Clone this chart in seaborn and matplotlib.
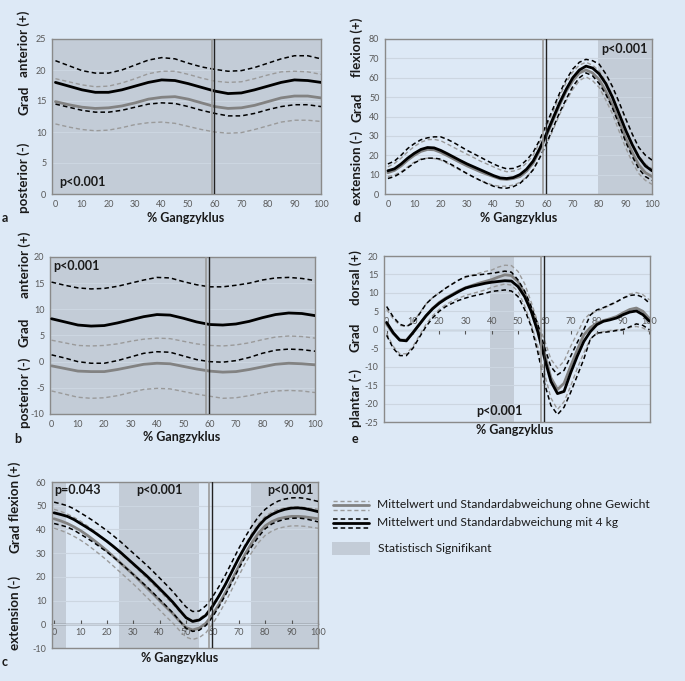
import numpy as np
import pandas as pd
import matplotlib
matplotlib.use("Agg")
import matplotlib.pyplot as plt
from matplotlib.lines import Line2D
from matplotlib.patches import Rectangle
import seaborn as sns

# ---------------- data ----------------
x_pct = [0, 5, 10, 15, 20, 25, 30, 35, 40, 45, 50, 55, 60, 65, 70, 75, 80, 85, 90, 95, 100]
x_fine = [0, 2.5, 5, 7.5, 10, 12.5, 15, 17.5, 20, 22.5, 25, 27.5, 30, 32.5, 35, 37.5, 40, 42.5, 45, 47.5,
          50, 52.5, 55, 57.5, 60, 62.5, 65, 67.5, 70, 72.5, 75, 77.5, 80, 82.5, 85, 87.5, 90, 92.5, 95, 97.5, 100]

# panel a (x_pct)
a_kg_mean = [18.0, 17.4, 16.8, 16.4, 16.4, 16.8, 17.4, 18.0, 18.4, 18.3, 17.8, 17.2, 16.6, 16.2, 16.3, 16.8, 17.4, 18.0, 18.4, 18.3, 18.0]
a_kg_up   = [21.5, 20.7, 19.9, 19.5, 19.5, 20.0, 20.8, 21.6, 22.0, 21.8, 21.1, 20.5, 20.1, 19.8, 19.9, 20.4, 21.1, 21.8, 22.3, 22.3, 21.8]
a_kg_lo   = [14.5, 14.0, 13.5, 13.2, 13.2, 13.5, 14.0, 14.5, 14.7, 14.6, 14.1, 13.5, 13.0, 12.6, 12.6, 13.0, 13.6, 14.1, 14.4, 14.4, 14.1]
a_0_mean  = [14.9, 14.4, 14.0, 13.8, 13.9, 14.2, 14.7, 15.3, 15.6, 15.7, 15.3, 14.7, 14.1, 13.8, 13.9, 14.3, 14.9, 15.5, 15.8, 15.8, 15.5]
a_0_up    = [18.6, 18.1, 17.6, 17.3, 17.4, 17.9, 18.6, 19.4, 19.8, 19.8, 19.3, 18.7, 18.2, 18.0, 18.1, 18.6, 19.2, 19.7, 19.8, 19.7, 19.3]
a_0_lo    = [11.3, 10.8, 10.4, 10.2, 10.3, 10.7, 11.2, 11.5, 11.6, 11.4, 10.9, 10.4, 10.0, 9.8, 9.9, 10.4, 11.0, 11.6, 11.9, 11.9, 11.7]

# panel b (x_pct)
b_kg_up   = [15.2, 14.6, 14.1, 13.9, 14.0, 14.4, 15.0, 15.6, 16.1, 16.0, 15.3, 14.7, 14.3, 14.3, 14.6, 15.0, 15.6, 16.0, 16.1, 15.9, 15.5]
b_kg_mean = [8.2, 7.6, 7.0, 6.8, 6.9, 7.4, 8.0, 8.6, 9.0, 8.9, 8.3, 7.6, 7.1, 7.0, 7.2, 7.7, 8.4, 9.0, 9.3, 9.2, 8.8]
b_0_up    = [4.1, 3.6, 3.1, 3.0, 3.1, 3.4, 3.9, 4.3, 4.5, 4.4, 3.9, 3.4, 3.1, 3.0, 3.2, 3.6, 4.2, 4.7, 4.9, 4.8, 4.5]
b_kg_lo   = [1.3, 0.7, 0.0, -0.3, -0.3, 0.2, 0.9, 1.6, 1.9, 1.8, 1.1, 0.4, 0.0, -0.1, 0.2, 0.8, 1.6, 2.2, 2.4, 2.3, 2.0]
b_0_mean  = [-0.8, -1.3, -1.8, -1.9, -1.9, -1.5, -1.0, -0.5, -0.3, -0.4, -0.9, -1.4, -1.8, -2.0, -1.9, -1.5, -1.0, -0.5, -0.3, -0.4, -0.6]
b_0_lo    = [-5.6, -6.2, -6.8, -7.0, -6.9, -6.5, -5.9, -5.3, -5.1, -5.2, -5.7, -6.2, -6.6, -7.0, -6.9, -6.5, -6.0, -5.6, -5.5, -5.6, -5.9]

# panel c (x_fine)
c_kg_mean = [47.0, 46.3, 45.5, 44.2, 42.5, 40.8, 39.0, 37.0, 35.0, 32.8, 30.5, 28.0, 25.5, 23.0, 20.5, 17.8, 15.0, 12.2, 9.3, 6.0,
             2.8, 1.2, 1.8, 3.8, 7.5, 12.0, 17.0, 22.5, 28.0, 33.0, 37.5, 41.5, 44.5, 46.3, 47.6, 48.5, 49.0, 49.1, 48.8, 48.2, 47.5]
c_kg_up   = [51.5, 50.8, 50.0, 48.7, 47.0, 45.3, 43.5, 41.5, 39.5, 37.3, 35.0, 32.5, 30.0, 27.5, 25.0, 22.3, 19.5, 16.7, 13.8, 10.5,
             7.3, 5.4, 5.6, 7.8, 11.5, 16.0, 21.0, 26.5, 32.0, 37.0, 41.5, 45.5, 48.5, 50.5, 52.0, 52.8, 53.3, 53.4, 53.1, 52.5, 51.8]
c_kg_lo   = [42.5, 41.8, 41.0, 39.7, 38.0, 36.3, 34.5, 32.5, 30.5, 28.3, 26.0, 23.5, 21.0, 18.5, 16.0, 13.3, 10.5, 7.7, 4.8, 1.5,
             -1.7, -3.0, -2.5, -0.5, 3.0, 7.5, 12.5, 18.0, 23.5, 28.5, 33.0, 37.0, 40.3, 42.3, 43.5, 44.3, 44.7, 44.8, 44.5, 43.9, 43.2]
c_0_mean  = [44.5, 43.6, 42.5, 41.1, 39.5, 37.6, 35.5, 33.3, 31.0, 28.5, 26.0, 23.5, 21.0, 18.3, 15.5, 12.8, 10.0, 7.2, 4.5, 1.4,
             -1.4, -2.4, -1.6, 0.4, 4.0, 8.5, 13.5, 19.0, 24.5, 29.8, 34.5, 38.5, 41.5, 43.3, 44.5, 45.1, 45.5, 45.5, 45.3, 44.9, 44.5]
c_0_up    = [48.5, 47.6, 46.5, 45.1, 43.5, 41.6, 39.5, 37.3, 35.0, 32.5, 30.0, 27.5, 25.0, 22.3, 19.5, 16.8, 14.0, 11.2, 8.5, 5.4,
             2.6, 1.6, 2.4, 4.4, 8.0, 12.5, 17.5, 23.0, 28.5, 33.8, 38.5, 42.5, 45.5, 47.3, 48.5, 49.1, 49.5, 49.5, 49.3, 48.9, 48.5]
c_0_lo    = [40.5, 39.6, 38.5, 37.1, 35.5, 33.6, 31.5, 29.3, 27.0, 24.5, 22.0, 19.5, 17.0, 14.3, 11.5, 8.8, 6.0, 3.2, 0.5, -2.6,
             -5.4, -6.4, -5.6, -3.6, 0.0, 4.5, 9.5, 15.0, 20.5, 25.8, 30.5, 34.5, 37.5, 39.3, 40.5, 41.1, 41.5, 41.5, 41.3, 40.9, 40.5]

# panel d (x_fine)
d_kg_mean = [12.0, 13.0, 15.5, 18.5, 21.0, 23.0, 24.0, 23.8, 22.5, 20.8, 19.0, 17.2, 15.5, 14.0, 12.5, 11.0, 9.5, 8.3, 8.0, 8.5,
             10.0, 12.8, 17.0, 23.5, 31.0, 39.0, 47.0, 54.0, 60.0, 64.0, 66.0, 65.0, 62.0, 57.0, 50.0, 41.5, 33.0, 25.5, 19.0, 14.5, 12.0]
d_0_mean  = [11.0, 12.2, 14.5, 17.5, 20.0, 22.0, 23.0, 22.8, 21.5, 19.8, 18.0, 16.2, 14.5, 13.0, 11.5, 10.2, 9.0, 7.8, 7.5, 8.0,
             9.0, 11.8, 16.0, 22.5, 30.0, 38.0, 46.0, 53.0, 58.5, 62.5, 64.0, 62.5, 59.0, 53.0, 46.0, 37.5, 29.0, 21.5, 15.0, 11.0, 9.0]
d_kg_up   = [15.5, 17.0, 20.0, 23.5, 26.0, 28.0, 29.0, 29.5, 29.5, 28.2, 26.5, 24.5, 22.5, 20.8, 19.0, 17.2, 15.5, 14.0, 13.0, 13.2,
             14.5, 17.5, 21.5, 28.0, 36.0, 44.0, 52.0, 59.0, 64.5, 68.0, 69.5, 68.8, 67.0, 62.0, 55.5, 47.5, 39.0, 31.0, 24.0, 20.0, 17.5]
d_kg_lo   = [8.0, 9.0, 11.0, 13.5, 16.0, 17.8, 18.5, 18.5, 18.0, 16.3, 14.5, 12.5, 10.5, 8.7, 7.0, 5.4, 4.0, 3.2, 3.0, 3.8,
             5.5, 8.5, 12.5, 18.8, 26.0, 34.0, 42.0, 49.0, 55.5, 60.0, 62.5, 61.0, 57.0, 51.5, 44.5, 36.0, 27.0, 19.5, 13.0, 9.0, 7.0]
d_0_up    = [14.0, 15.8, 18.5, 21.8, 24.5, 26.7, 28.0, 28.2, 27.5, 25.8, 24.0, 22.2, 20.5, 18.8, 17.0, 15.5, 14.0, 12.5, 11.5, 11.8,
             13.0, 16.0, 20.0, 26.8, 34.5, 42.5, 50.5, 57.5, 63.0, 66.5, 68.0, 66.5, 63.5, 58.0, 51.0, 42.5, 34.0, 26.0, 19.5, 15.5, 13.0]
d_0_lo    = [9.0, 9.8, 11.5, 14.0, 16.5, 18.0, 18.5, 18.3, 17.5, 15.8, 14.0, 12.2, 10.5, 8.7, 7.0, 5.7, 4.5, 4.0, 4.0, 4.6,
             6.0, 8.8, 12.5, 18.5, 25.5, 33.0, 41.0, 48.0, 54.0, 58.5, 60.5, 58.5, 55.0, 48.5, 41.5, 32.5, 24.0, 16.5, 10.5, 7.0, 5.0]

# panel e (x_fine)
e_kg_mean = [2.0, -0.8, -2.8, -3.0, -0.8, 1.5, 3.8, 5.7, 7.2, 8.4, 9.4, 10.4, 11.3, 11.8, 12.2, 12.6, 12.9, 13.1, 13.3, 13.2,
             11.7, 9.0, 5.0, -0.5, -7.5, -14.0, -17.3, -16.7, -11.7, -7.2, -3.2, -0.5, 1.4, 2.3, 2.7, 3.2, 4.1, 4.8, 5.1, 4.1, 2.3]
e_0_mean  = [1.5, -1.0, -2.8, -2.8, -0.8, 1.5, 3.8, 5.8, 7.4, 8.6, 9.6, 10.6, 11.4, 12.0, 12.6, 13.1, 13.6, 14.3, 14.9, 14.7,
             13.0, 10.0, 5.5, 0.5, -6.3, -13.0, -16.2, -14.5, -9.9, -5.5, -1.4, 0.6, 1.8, 2.5, 3.0, 3.6, 4.6, 5.5, 5.9, 5.0, 3.0]
e_kg_up   = [6.3, 3.5, 1.5, 0.9, 1.8, 4.3, 7.0, 8.7, 10.0, 11.3, 12.4, 13.5, 14.4, 14.7, 14.9, 15.1, 15.3, 15.6, 15.9, 15.6,
             13.5, 10.5, 6.3, 1.5, -4.5, -10.0, -12.2, -11.0, -7.2, -3.5, 0.0, 4.0, 5.4, 6.0, 6.8, 7.6, 8.6, 9.3, 9.5, 8.8, 7.2]
e_kg_lo   = [-1.5, -5.0, -7.0, -7.0, -5.0, -2.0, 0.9, 3.2, 5.0, 6.3, 7.2, 8.0, 8.6, 9.1, 9.5, 9.9, 10.4, 10.6, 10.8, 10.5,
             9.0, 5.5, 0.9, -6.0, -14.4, -20.5, -23.0, -21.0, -17.0, -12.5, -8.0, -2.5, -0.9, -0.7, -0.5, -0.2, 0.0, 0.8, 1.6, 1.2, 0.0]
e_0_up    = [5.5, 3.0, 1.2, 0.9, 2.0, 4.5, 7.0, 8.7, 10.0, 11.3, 12.5, 13.5, 14.2, 14.8, 15.3, 15.8, 16.2, 17.0, 17.5, 17.4,
             15.8, 12.5, 7.5, 2.0, -2.7, -8.0, -10.4, -8.5, -4.5, -1.0, 2.7, 4.5, 5.0, 5.8, 6.6, 7.5, 8.6, 9.7, 10.1, 9.5, 8.1]
e_0_lo    = [-1.0, -4.5, -6.5, -6.5, -4.5, -1.5, 1.5, 3.8, 5.5, 6.8, 7.8, 8.6, 9.3, 9.8, 10.3, 10.8, 11.5, 12.0, 12.4, 12.1,
             10.4, 6.5, 1.5, -4.5, -11.7, -18.5, -21.6, -19.5, -15.3, -10.5, -6.3, -2.5, -0.9, -0.5, -0.2, 0.0, 0.2, 0.6, 0.9, 0.5, -0.5]

# significant regions (% gait cycle)
a_sig = [(-5, 105)]
b_sig = [(-5, 105)]
c_sig = [(-5, 4.5), (24.5, 55.0), (74.5, 105)]
d_sig = [(79.5, 105)]
e_sig = [(39.5, 48.5)]

toe_off_0 = 58.8
toe_off_kg = 59.8

p_texts_a = ["p<0.001"]
p_texts_b = ["p<0.001"]
p_texts_c = ["p=0.043", "p<0.001", "p<0.001"]
p_texts_d = ["p<0.001"]
p_texts_e = ["p<0.001"]

legend_labels = ["Mittelwert und Standardabweichung ohne Gewicht",
                 "Mittelwert und Standardabweichung mit 4 kg",
                 "Statistisch Signifikant"]

# ---------------- style ----------------
sns.set_style("white")
FONT = ["Lato", "DejaVu Sans"]
plt.rcParams["font.family"] = FONT

BG = "#dde9f6"
SIG = "#c3ccd7"
GRID = "#ccd6e1"
FRAME = "#8a8a8a"
TICKC = "#595959"
GREY_MEAN = "#828282"
GREY_SD = "#9a9a9a"

W, H = 685, 681
fig = plt.figure(figsize=(W / 100, H / 100), dpi=100)
fig.patch.set_facecolor(BG)


def px_axes(l, r, t, b):
    return fig.add_axes([l / W, 1 - b / H, (r - l) / W, (b - t) / H])


def draw_panel(ax, xs, series, ylim, yticks, xlim, sig, zero_axis=False):
    ax.set_facecolor(BG)
    for (s0, s1) in sig:
        ax.axvspan(s0, s1, color=SIG, lw=0, zorder=0)
    for yt in yticks:
        ax.axhline(yt, color=GRID, lw=0.8, zorder=0.5)
    kg_mean, kg_up, kg_lo, g_mean, g_up, g_lo = series
    df = pd.DataFrame({"x": xs})
    for vals, col, lw, ls, z in [
        (g_up, GREY_SD, 1.0, (0, (3, 2)), 2),
        (g_lo, GREY_SD, 1.0, (0, (3, 2)), 2),
        (g_mean, GREY_MEAN, 2.0, "-", 3),
        (kg_up, "black", 1.1, (0, (3, 2)), 4),
        (kg_lo, "black", 1.1, (0, (3, 2)), 4),
        (kg_mean, "black", 2.0, "-", 5),
    ]:
        df["y"] = vals
        sns.lineplot(data=df, x="x", y="y", ax=ax, color=col, lw=lw,
                     linestyle=ls, zorder=z, legend=False)
    ax.axvline(toe_off_0, color="#9a9a9a", lw=1.2, zorder=6)
    ax.axvline(toe_off_kg, color="#222222", lw=1.0, zorder=6)
    ax.set_xlim(*xlim)
    ax.set_ylim(*ylim)
    ax.set_yticks(yticks)
    ax.set_yticklabels([str(v) for v in yticks])
    ax.set_xlabel("")
    ax.set_ylabel("")
    ax.tick_params(axis="y", length=0, labelsize=6.5, labelcolor=TICKC, pad=4)
    for sp in ax.spines.values():
        sp.set_color(FRAME)
        sp.set_linewidth(1.0)
        sp.set_visible(True)
    xt = list(range(0, 101, 10))
    if zero_axis:
        ax.set_xticks(xt)
        ax.tick_params(axis="x", length=0, labelbottom=False)
        loc = (0 - ylim[0]) / (ylim[1] - ylim[0])
        sec = ax.secondary_xaxis(loc)
        sec.set_xticks(xt)
        sec.set_xticklabels([str(v) for v in xt])
        sec.tick_params(axis="x", direction="in", length=3, color="#555555",
                        labelsize=6.5, labelcolor=TICKC, pad=3)
        sec.spines["bottom"].set_color("#444444")
        sec.spines["bottom"].set_linewidth(1.0)
    else:
        ax.set_xticks(xt)
        ax.set_xticklabels([str(v) for v in xt])
        ax.tick_params(axis="x", direction="in", length=3, color=FRAME,
                       labelsize=6.5, labelcolor=TICKC, pad=4)


FS = 9
bold = dict(fontweight="bold", fontsize=FS, color="#1a1a1a")

# panel a
ax_a = px_axes(52, 321, 39, 194)
draw_panel(ax_a, x_pct, [a_kg_mean, a_kg_up, a_kg_lo, a_0_mean, a_0_up, a_0_lo],
           (0, 25), [0, 5, 10, 15, 20, 25], (-1.3, 100), a_sig)
ax_a.text(1.5, 1.9, p_texts_a[0], ha="left", va="center", **bold)

# panel b
ax_b = px_axes(50, 315, 257, 414)
draw_panel(ax_b, x_pct, [b_kg_mean, b_kg_up, b_kg_lo, b_0_mean, b_0_up, b_0_lo],
           (-10, 20), [-10, -5, 0, 5, 10, 15, 20], (-0.6, 100), b_sig)
ax_b.text(0.8, 18.3, p_texts_b[0], ha="left", va="center", **bold)

# panel c
ax_c = px_axes(52, 318, 482, 648)
draw_panel(ax_c, x_fine, [c_kg_mean, c_kg_up, c_kg_lo, c_0_mean, c_0_up, c_0_lo],
           (-10, 60), [-10, 0, 10, 20, 30, 40, 50, 60], (-0.8, 100), c_sig,
           zero_axis=True)
ax_c.text(0.0, 56.5, p_texts_c[0], ha="left", va="center", **bold)
ax_c.text(40.0, 56.5, p_texts_c[1], ha="center", va="center", **bold)
ax_c.text(98.5, 56.5, p_texts_c[2], ha="right", va="center", **bold)

# panel d
ax_d = px_axes(385, 652, 39, 194)
draw_panel(ax_d, x_fine, [d_kg_mean, d_kg_up, d_kg_lo, d_0_mean, d_0_up, d_0_lo],
           (0, 80), [0, 10, 20, 30, 40, 50, 60, 70, 80], (-1.1, 100), d_sig)
ax_d.text(98.5, 75, p_texts_d[0], ha="right", va="center", **bold)

# panel e
ax_e = px_axes(384, 650, 256, 422)
draw_panel(ax_e, x_fine, [e_kg_mean, e_kg_up, e_kg_lo, e_0_mean, e_0_up, e_0_lo],
           (-25, 20), [-25, -20, -15, -10, -5, 0, 5, 10, 15, 20], (-1.0, 100.2), e_sig,
           zero_axis=True)
ax_e.text(43.0, -22.0, p_texts_e[0], ha="center", va="center", **bold)

# x labels and panel letters
xl = dict(fontweight="bold", fontsize=FS, color="#1a1a1a", ha="center", va="center")
for (xp, yp) in [(186, 218), (182, 437), (180, 658), (519, 218), (515, 430)]:
    fig.text(xp / W, 1 - yp / H, "% Gangzyklus", **xl)
for (lab, xp, yp) in [("a", 5, 218), ("b", 18, 439), ("c", 5, 662), ("d", 357, 218), ("e", 355, 439)]:
    fig.text(xp / W, 1 - yp / H, lab, **xl)

# two-part y labels
yl = dict(fontweight="bold", fontsize=9.6, color="#1a1a1a", ha="center", va="center", rotation=90)
ylabels = [
    (24, [("anterior (+)", 44), ("Grad", 100), ("posterior (-)", 178)]),
    (25, [("anterior (+)", 265), ("Grad", 332), ("posterior (-)", 393)]),
    (15, [("flexion (+)", 491), ("Grad", 538), ("extension (-)", 613)]),
    (357, [("flexion (+)", 47), ("Grad", 107), ("extension (-)", 168)]),
    (356, [("dorsal (+)", 278), ("Grad", 337), ("plantar (-)", 398)]),
]
for xp, items in ylabels:
    for txt, yp in items:
        fig.text(xp / W, 1 - yp / H, txt, **yl)

# legend
def fline(x0, x1, y, **kw):
    fig.add_artist(Line2D([x0 / W, x1 / W], [1 - y / H, 1 - y / H],
                          transform=fig.transFigure, **kw))

lx0, lx1 = 333, 369
fline(lx0, lx1, 501, color=GREY_SD, lw=1.0, linestyle=(0, (3, 2)))
fline(lx0, lx1, 505, color=GREY_MEAN, lw=2.0)
fline(lx0, lx1, 509.5, color=GREY_SD, lw=1.0, linestyle=(0, (3, 2)))
fline(lx0, lx1, 518.5, color="black", lw=1.1, linestyle=(0, (3, 2)))
fline(lx0, lx1, 523, color="black", lw=2.0)
fline(lx0, lx1, 527.5, color="black", lw=1.1, linestyle=(0, (3, 2)))
fig.add_artist(Rectangle((332 / W, 1 - 555 / H), 38 / W, 13 / H,
                         transform=fig.transFigure, facecolor=SIG, lw=0))
lt = dict(fontsize=8.7, color="#1a1a1a", ha="left", va="center")
fig.text(377 / W, 1 - 505 / H, legend_labels[0], **lt)
fig.text(377 / W, 1 - 523 / H, legend_labels[1], **lt)
fig.text(378 / W, 1 - 549 / H, legend_labels[2], **lt)

fig.savefig("out.png", dpi=100, facecolor=BG)
